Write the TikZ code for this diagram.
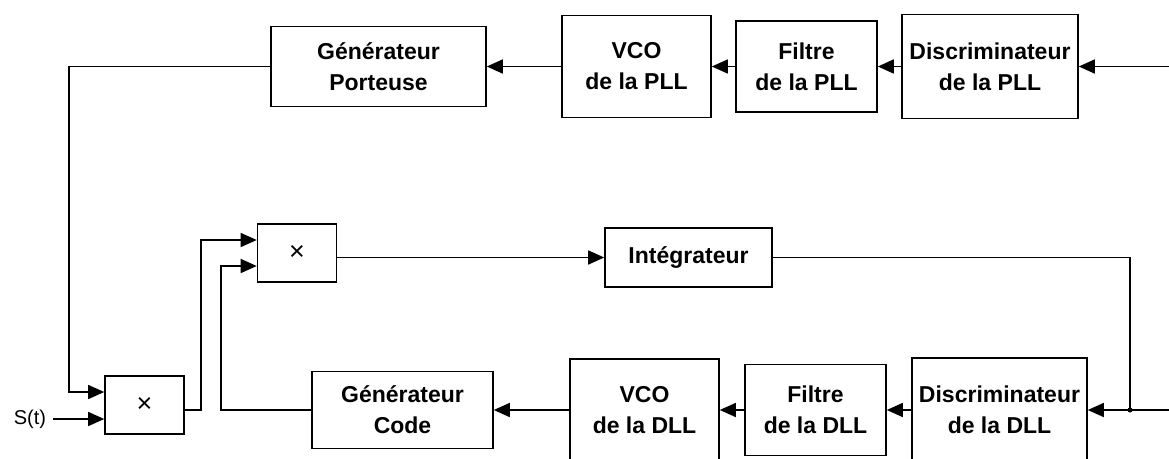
\documentclass[tikz,border=0pt]{standalone}
\usepackage{fontspec}
\setmainfont{Liberation Sans}
\usetikzlibrary{arrows.meta,positioning,calc}

\begin{document}
\begin{tikzpicture}[x=1pt,y=-1pt,>={Triangle[length=16pt,width=14pt]},line width=1.6pt,
   bloc/.style={draw,align=center,inner sep=0pt,font=\fontsize{23}{31}\selectfont\bfseries},
   mult/.style={draw,minimum width=79pt,minimum height=58pt,inner sep=0pt,font=\fontsize{27}{27}\selectfont}]
  \useasboundingbox (0,0) rectangle (1169,458);
  \node[bloc,minimum width=215pt,minimum height=80pt]  (gp)    at (378.5,66.5) {Générateur\\Porteuse};
  \node[bloc,minimum width=149pt,minimum height=102pt] (vcop)  at (636.5,66.5) {VCO\\de la PLL};
  \node[bloc,minimum width=141pt,minimum height=91pt]  (fp)    at (806.5,66.5) {Filtre\\de la PLL};
  \node[bloc,minimum width=176pt,minimum height=104pt] (dp)    at (990,66.5)   {Discriminateur\\de la PLL};
  \node[mult] (m1) at (297,253) {×};
  \node[bloc,minimum width=167pt,minimum height=59pt]  (integ) at (688.5,257.5) {Intégrateur};
  \node[mult] (m2) at (144.5,405) {×};
  \node[inner sep=0pt,font=\fontsize{20}{20}\selectfont] (st) at (30,419) {S(t)};
  \node[bloc,minimum width=181pt,minimum height=77pt]  (gc)    at (402.5,410) {Générateur\\Code};
  \node[bloc,minimum width=149pt,minimum height=102pt] (vcod)  at (644.5,410) {VCO\\de la DLL};
  \node[bloc,minimum width=141pt,minimum height=91pt]  (fd)    at (815.5,410) {Filtre\\de la DLL};
  \node[bloc,minimum width=175pt,minimum height=104pt] (dd)    at (999.5,410) {Discriminateur\\de la DLL};
  \coordinate (inP) at (1169,66.5);
  \coordinate (inD) at (1169,410);
  \coordinate (jn)  at (1130,410);
  \draw[->] (inP) -- (dp.east);
  \draw[->] (dp.west) -- (fp.east);
  \draw[->] (fp.west) -- (vcop.east);
  \draw[->] (vcop.west) -- (gp.east);
  \draw[->] (gp.west) -- ++(-201,0) |- ([yshift=13pt]m2.west);
  \draw[->] ([xshift=6pt]st.east) -- ([yshift=-14pt]m2.west);
  \draw[->] ([yshift=-5pt]m2.east) -- ++(16,0) |- ([yshift=13pt]m1.west);
  \draw[->] (gc.west) -- ++(-90,0) |- ([yshift=-13pt]m1.west);
  \draw[->] (m1.east |- integ.west) -- (integ.west);
  \draw (integ.east) -| (jn);
  \draw[->] (inD) -- (dd.east);
  \fill (jn) circle (2.5pt);
  \draw[->] (dd.west) -- (fd.east);
  \draw[->] (fd.west) -- (vcod.east);
  \draw[->] (vcod.west) -- (gc.east);
\end{tikzpicture}
\end{document}
